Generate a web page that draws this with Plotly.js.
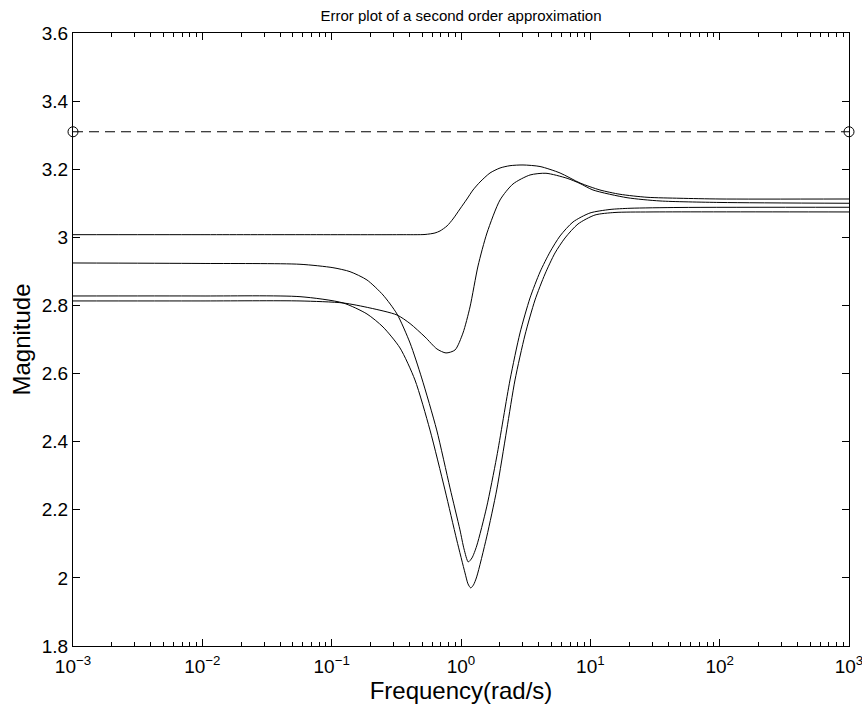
<!DOCTYPE html>
<html>
<head>
<meta charset="utf-8">
<script src="https://cdn.plot.ly/plotly-3.0.1.min.js"></script>
<style>html,body{margin:0;padding:0;background:#fff;}#plot{width:862px;height:709px;}</style>
</head>
<body>
<div id="plot"></div>
<script>
// Curve A (flat ~3.01, bump to 3.21)
const freqA = [0.001, 0.0096, 0.0569, 0.3375, 0.527, 0.629, 0.6883, 0.7795, 0.867, 0.9818, 1.112, 1.238, 1.403, 1.676, 2.003, 2.393, 3.016, 4.083, 5.829, 8.319, 11.88, 16.96, 27.42, 49.35, 100.6, 1000];
const magA  = [3.0078, 3.0078, 3.0078, 3.0078, 3.0084, 3.0128, 3.0187, 3.0334, 3.0539, 3.0833, 3.1126, 3.1390, 3.1625, 3.1890, 3.2036, 3.2104, 3.2125, 3.2080, 3.1890, 3.1596, 3.1390, 3.1264, 3.1176, 3.1147, 3.1126, 3.1126];

// Curve B (flat ~2.925, dip to 2.05)
const freqB = [0.001, 0.0096, 0.0569, 0.1023, 0.1386, 0.1875, 0.2494, 0.3199, 0.4036, 0.4966, 0.6486, 0.8222, 0.9818, 1.055, 1.138, 1.216, 1.322, 1.580, 1.888, 2.393, 2.859, 3.418, 4.083, 4.879, 5.829, 7.345, 9.940, 14.19, 20.27, 49.35, 1000];
const magB  = [2.9247, 2.9233, 2.9209, 2.9109, 2.8992, 2.8748, 2.8308, 2.7750, 2.6898, 2.5871, 2.4344, 2.2641, 2.1408, 2.0850, 2.0469, 2.0586, 2.0938, 2.2084, 2.3551, 2.5812, 2.7192, 2.8220, 2.8983, 2.9570, 3.0040, 3.0451, 3.0715, 3.0818, 3.0853, 3.0877, 3.0883];

// Curve C (flat ~2.83, dip to 1.97)
const freqC = [0.001, 0.0096, 0.0569, 0.1225, 0.1875, 0.2494, 0.3375, 0.4406, 0.5754, 0.7516, 0.9268, 1.074, 1.133, 1.189, 1.249, 1.322, 1.580, 1.888, 2.256, 2.616, 3.125, 3.735, 4.463, 5.333, 6.372, 8.029, 10.87, 15.51, 28.93, 1000];
const magC  = [2.8278, 2.8278, 2.8258, 2.8073, 2.7750, 2.7368, 2.6752, 2.5812, 2.4344, 2.2583, 2.1115, 2.0146, 1.9823, 1.9706, 1.9794, 2.0029, 2.1203, 2.2583, 2.4344, 2.5812, 2.7133, 2.8161, 2.8924, 2.9541, 2.9981, 3.0392, 3.0656, 3.0730, 3.0745, 3.0745];

// Curve D (flat ~2.81, dip to 2.66, bump to 3.19)
const freqD = [0.001, 0.0096, 0.0569, 0.1225, 0.1977, 0.3199, 0.4036, 0.5272, 0.6516, 0.7656, 0.8995, 1.036, 1.174, 1.354, 1.588, 2.003, 2.524, 3.418, 4.54, 6.607, 8.319, 10.49, 19.22, 34.57, 100.6, 1000];
const magD  = [2.8132, 2.8132, 2.8132, 2.8073, 2.7926, 2.7720, 2.7468, 2.7074, 2.6722, 2.6605, 2.6693, 2.7192, 2.7955, 2.9159, 3.0128, 3.1097, 3.1567, 3.1831, 3.1881, 3.1734, 3.1581, 3.1390, 3.1164, 3.1068, 3.1024, 3.1000];

// Dashed bound line
const freqBound = [0.001, 1000];
const magBound  = [3.31, 3.31];

const xTickVals = [0.001, 0.01, 0.1, 1, 10, 100, 1000];
const xTickText = ['10<sup>−3</sup>', '10<sup>−2</sup>', '10<sup>−1</sup>', '10<sup>0</sup>', '10<sup>1</sup>', '10<sup>2</sup>', '10<sup>3</sup>'];
const yTickVals = [1.8, 2, 2.2, 2.4, 2.6, 2.8, 3, 3.2, 3.4, 3.6];
const yTickText = ['1.8', '2', '2.2', '2.4', '2.6', '2.8', '3', '3.2', '3.4', '3.6'];

const lineStyle = {color: '#000', width: 1, shape: 'spline', smoothing: 0.7};
const traces = [
  {x: freqA, y: magA, mode: 'lines', line: lineStyle, hoverinfo: 'skip'},
  {x: freqB, y: magB, mode: 'lines', line: lineStyle, hoverinfo: 'skip'},
  {x: freqC, y: magC, mode: 'lines', line: lineStyle, hoverinfo: 'skip'},
  {x: freqD, y: magD, mode: 'lines', line: lineStyle, hoverinfo: 'skip'},
  {x: freqBound, y: magBound, mode: 'lines+markers', cliponaxis: false,
   line: {color: '#000', width: 1, dash: '10px,6px'},
   marker: {symbol: 'circle-open', size: 10, color: '#000', line: {width: 1, color: '#000'}}, hoverinfo: 'skip'}
];

const font = {family: 'Liberation Sans, Arial, Helvetica, sans-serif', color: '#000'};
const layout = {
  width: 862, height: 709,
  margin: {l: 73, r: 13, t: 33, b: 63},
  paper_bgcolor: '#fff', plot_bgcolor: '#fff',
  showlegend: false,
  font: Object.assign({size: 19}, font),
  title: {text: 'Error plot of a second order approximation', font: Object.assign({size: 15}, font),
          x: 0.5, xref: 'paper', xanchor: 'center', y: 1, yref: 'paper', yanchor: 'bottom', pad: {b: 12}},
  xaxis: {
    type: 'log', range: [-3, 3], tickvals: xTickVals, ticktext: xTickText,
    ticks: 'inside', ticklen: 7, tickwidth: 1, tickcolor: '#000', ticklabelstandoff: 3,
    ticklabeloverflow: 'allow',
    minor: {ticks: 'inside', ticklen: 4, tickwidth: 1, tickcolor: '#000', dtick: 'D1', showgrid: false},
    showline: true, linecolor: '#000', linewidth: 1, mirror: 'allticks', showgrid: false, zeroline: false,
    tickfont: Object.assign({size: 19}, font),
    title: {text: 'Frequency(rad/s)', font: Object.assign({size: 24}, font), standoff: 0}
  },
  yaxis: {
    range: [1.8, 3.6], tickvals: yTickVals, ticktext: yTickText,
    ticks: 'inside', ticklen: 7, tickwidth: 1, tickcolor: '#000', ticklabelstandoff: 0,
    ticklabeloverflow: 'allow',
    showline: true, linecolor: '#000', linewidth: 1, mirror: 'allticks', showgrid: false, zeroline: false,
    tickfont: Object.assign({size: 19}, font),
    title: {text: 'Magnitude', font: Object.assign({size: 24}, font), standoff: 4}
  }
};

Plotly.newPlot('plot', traces, layout, {staticPlot: true, displayModeBar: false});
</script>
</body>
</html>
